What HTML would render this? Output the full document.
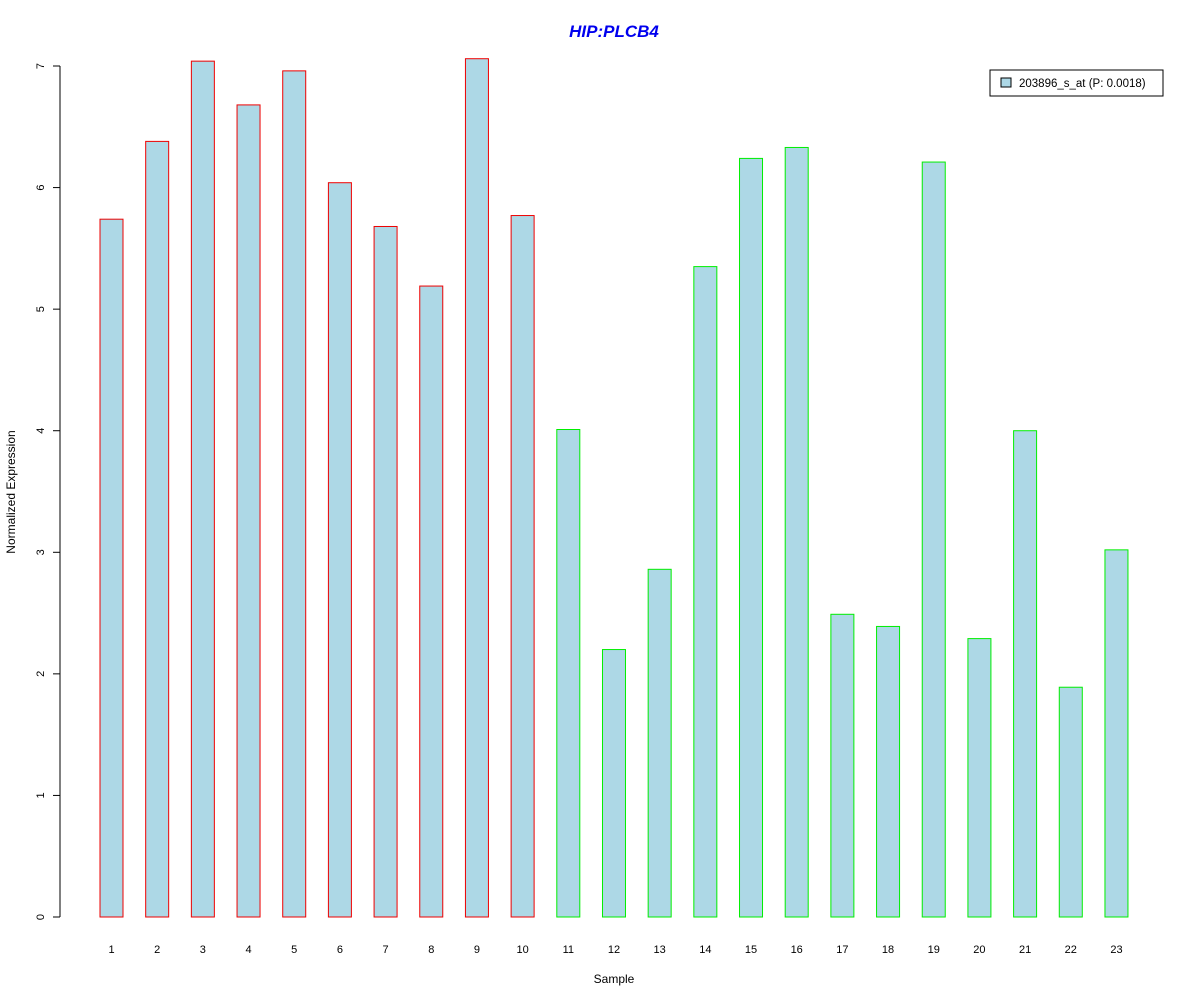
<!DOCTYPE html>
<html><head><meta charset="utf-8"><style>
body{margin:0;background:#fff}
svg{display:block;font-family:"Liberation Sans",Arial,sans-serif}
</style></head><body>
<svg id="chart" width="1200" height="1000" viewBox="0 0 1200 1000">
<rect width="1200" height="1000" fill="#fff"/>
<text x="614" y="37" text-anchor="middle" font-size="17" font-weight="bold" font-style="italic" fill="#0000ee">HIP:PLCB4</text>
<text x="614" y="983" text-anchor="middle" font-size="12">Sample</text>
<text transform="translate(15,492) rotate(-90)" text-anchor="middle" font-size="12">Normalized Expression</text>
<g id="yaxis"></g>
<g id="bars"></g>
<g id="xlabels"></g>
<g>
<rect x="990" y="70" width="173" height="26" fill="#fff" stroke="#000"/>
<rect x="1001" y="78" width="10" height="9" fill="#add8e6" stroke="#000"/>
<text x="1019" y="87" font-size="11.5">203896_s_at (P: 0.0018)</text>
</g>
</svg>
<script>
const categories=["1","2","3","4","5","6","7","8","9","10","11","12","13","14","15","16","17","18","19","20","21","22","23"];
const values=[5.74,6.38,7.04,6.68,6.96,6.04,5.68,5.19,7.06,5.77,4.01,2.20,2.86,5.35,6.24,6.33,2.49,2.39,6.21,2.29,4.00,1.89,3.02];
const groups=["a","a","a","a","a","a","a","a","a","a","b","b","b","b","b","b","b","b","b","b","b","b","b"];
const yTicks=[0,1,2,3,4,5,6,7];
const NS="http://www.w3.org/2000/svg";
const y=v=>917-v*121.57;
const x=i=>111.5+i*45.68;
const bw=23;
function mk(t,a,p){const e=document.createElementNS(NS,t);for(const k in a)e.setAttribute(k,a[k]);p.appendChild(e);return e;}
const ya=document.getElementById('yaxis');
const yl=mk('line',{x1:60,x2:60,y1:y(yTicks[0]),y2:y(yTicks[yTicks.length-1]),stroke:'#000'},ya);


yTicks.forEach(t=>{
 const l=mk('line',{x1:53,x2:60,y1:y(t),y2:y(t),stroke:'#000'},ya);
 
 
 const tx=mk('text',{transform:`translate(44,${y(t)}) rotate(-90)`,'text-anchor':'middle','font-size':11},ya);
 tx.textContent=t;
 
 
});
const bg=document.getElementById('bars'),xg=document.getElementById('xlabels');
values.forEach((v,i)=>{
 const r=mk('rect',{x:x(i)-bw/2,y:y(v),width:bw,height:y(0)-y(v),fill:'#add8e6',stroke:groups[i]==='a'?'#ee0000':'#00ee00'},bg);
 
 
 const t=mk('text',{x:x(i),y:953,'text-anchor':'middle','font-size':11},xg);
 t.textContent=categories[i];
 
 
});
</script>
</body></html>
